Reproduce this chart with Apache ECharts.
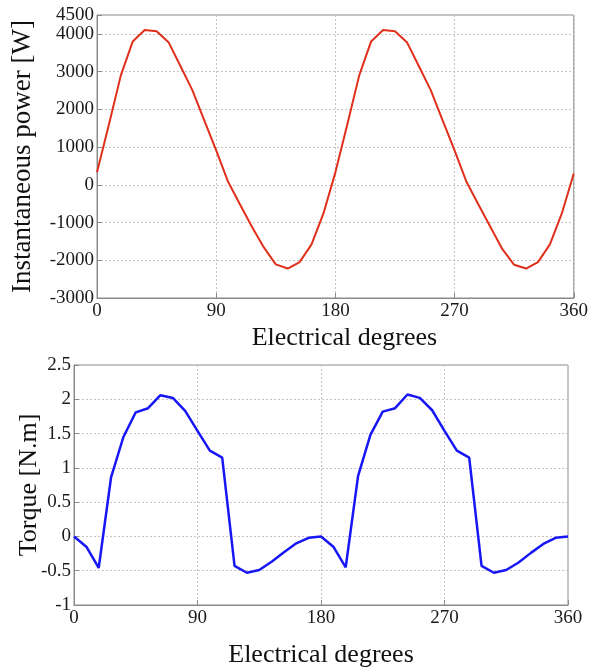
<!DOCTYPE html>
<html>
<head>
<meta charset="utf-8">
<script src="https://cdn.jsdelivr.net/npm/echarts@6/dist/echarts.min.js"></script>
<style>
html,body{margin:0;padding:0;background:#fff;}
#c{width:591px;height:669px;}
</style>
</head>
<body>
<div id="c"></div>
<script>
const degrees = [0,9,18,27,36,45,54,63,72,81,90,99,108,117,126,135,144,153,162,171,180,
  189,198,207,216,225,234,243,252,261,270,279,288,297,306,315,324,333,342,351,360];
const power = [330,1600,2900,3800,4100,4070,3780,3150,2510,1710,910,80,-520,-1110,-1660,-2110,-2220,-2050,-1580,-760,330,
  1600,2900,3800,4100,4070,3780,3150,2510,1710,910,80,-520,-1110,-1700,-2120,-2220,-2050,-1580,-760,300];
const torque = [0,-0.15,-0.46,0.86,1.45,1.81,1.87,2.06,2.02,1.83,1.54,1.25,1.15,-0.43,-0.53,-0.49,-0.37,-0.23,-0.10,-0.02,0.0,
  -0.15,-0.45,0.88,1.48,1.82,1.87,2.07,2.02,1.84,1.54,1.25,1.15,-0.43,-0.53,-0.49,-0.38,-0.24,-0.11,-0.02,0.0];
const xTicks = [0,90,180,270,360];
const powerTicks = [-3000,-2000,-1000,0,1000,2000,3000,4000,4500];
const torqueTicks = [-1,-0.5,0,0.5,1,1.5,2,2.5];

const FONT = 'Liberation Serif';
const gridLine = {show:true, lineStyle:{color:'#c4c4c4', type:[2,2], width:1}};
const axLine = {show:true, onZero:false, lineStyle:{color:'#8a8a8a', width:1}};
const tick = {show:true, inside:true, length:5, lineStyle:{color:'#8a8a8a'}};
const lbl = {color:'#1a1a1a', fontFamily:FONT, fontSize:19, formatter:function(v){return String(v);}};

function pairs(xs, ys){ return xs.map((x,i)=>[x, ys[i]]); }

const chart = echarts.init(document.getElementById('c'));
chart.setOption({
  animation:false,
  backgroundColor:'#fff',
  grid:[
    {left:97, top:15, width:478, height:283, show:true, borderColor:'#8a8a8a', borderWidth:1},
    {left:74, top:365, width:494, height:257, show:true, borderColor:'#8a8a8a', borderWidth:1}
  ],
  xAxis:[
    {type:'value', gridIndex:0, min:xTicks[0], max:xTicks[xTicks.length-1], interval:90,
     axisLine:axLine, axisTick:tick, splitLine:gridLine, axisLabel:Object.assign({margin:4}, lbl),
     name:'Electrical degrees', nameLocation:'middle', nameGap:27,
     nameTextStyle:{fontFamily:FONT, fontSize:26, color:'#111', padding:[0,0,0,18]}},
    {type:'value', gridIndex:1, min:xTicks[0], max:xTicks[xTicks.length-1], interval:90,
     axisLine:axLine, axisTick:tick, splitLine:gridLine, axisLabel:Object.assign({margin:4}, lbl),
     name:'Electrical degrees', nameLocation:'middle', nameGap:37,
     nameTextStyle:{fontFamily:FONT, fontSize:26, color:'#111'}}
  ],
  yAxis:[
    {type:'value', gridIndex:0, min:powerTicks[0], max:powerTicks[powerTicks.length-1], interval:1000,
     axisLine:axLine, axisTick:tick, splitLine:gridLine, axisLabel:Object.assign({margin:3}, lbl),
     name:'Instantaneous power [W]', nameLocation:'middle', nameGap:61, nameMoveOverlap:false,
     nameTextStyle:{fontFamily:FONT, fontSize:27, color:'#111'}},
    {type:'value', gridIndex:1, min:torqueTicks[0], max:torqueTicks[torqueTicks.length-1], interval:0.5,
     axisLine:axLine, axisTick:tick, splitLine:gridLine, axisLabel:Object.assign({margin:3}, lbl),
     name:'Torque [N.m]', nameLocation:'middle', nameGap:32, nameMoveOverlap:false,
     nameTextStyle:{fontFamily:FONT, fontSize:26, color:'#111'}}
  ],
  series:[
    {type:'line', xAxisIndex:0, yAxisIndex:0, data:pairs(degrees, power), symbol:'none',
     lineStyle:{color:'#e0301c', width:2}},
    {type:'line', xAxisIndex:1, yAxisIndex:1, data:pairs(degrees, torque), symbol:'none',
     lineStyle:{color:'#1717f5', width:2.5}}
  ]
});
</script>
</body>
</html>
